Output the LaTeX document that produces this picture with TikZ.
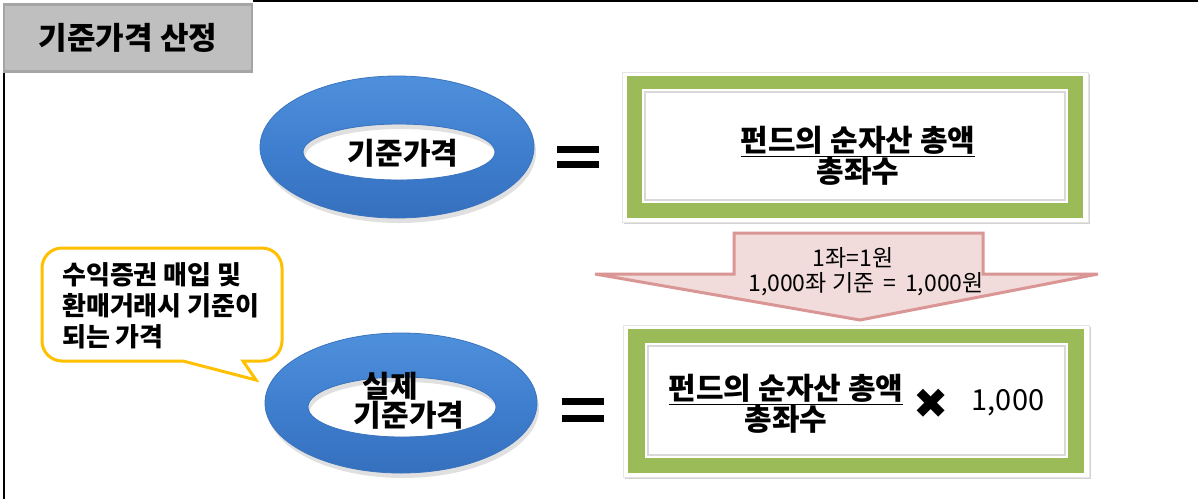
\documentclass[tikz,border=0pt]{standalone}
\usepackage{fontspec}
\setmainfont{Noto Sans CJK KR}
\newfontfamily\symfont{DejaVu Sans}
\usetikzlibrary{shadows}
\definecolor{titlefill}{HTML}{BFBFBF}
\definecolor{titleline}{HTML}{A5A5A5}
\definecolor{ringtop}{HTML}{4F90DC}
\definecolor{ringmid}{HTML}{3F7FCF}
\definecolor{ringbot}{HTML}{3570BE}
\definecolor{ringedge}{HTML}{3A74BE}
\definecolor{boxgreen}{HTML}{9BBB59}
\definecolor{arrowfill}{HTML}{F2DCDB}
\definecolor{arrowline}{HTML}{D99694}
\definecolor{callline}{HTML}{FFC000}
\tikzset{
  frameline/.style={draw=black, line width=2pt},
  titlebox/.style={draw=titleline, fill=titlefill, line width=2.5pt, minimum width=248pt, minimum height=67pt, font=\fontsize{31}{34}\selectfont\bfseries},
  ringtxt/.style={font=\fontsize{30}{34}\selectfont\bfseries, inner sep=0pt},
  boxtxt/.style={align=center, inner sep=0pt, font=\fontsize{30}{31}\selectfont\bfseries},
  arrtxt/.style={inner sep=0pt, font=\fontsize{23}{26}\selectfont},
  calltxt/.style={align=left, inner sep=0pt, font=\fontsize{26}{31}\selectfont\bfseries},
  eqbar/.style={fill=black},
  outerwhite/.style={fill=white, draw=gray!20, line width=0.6pt, drop shadow={opacity=0.35, shadow xshift=1.5pt, shadow yshift=-2pt}},
  greenfill/.style={fill=boxgreen},
  ringfill/.style={top color=ringtop, bottom color=ringbot, middle color=ringmid, even odd rule},
  arrowshape/.style={fill=arrowfill, draw=arrowline, line width=3pt, line join=miter},
  callout/.style={fill=white, draw=callline, line width=3pt}
}
\begin{document}
\begin{tikzpicture}[x=1pt,y=-1pt]
\useasboundingbox (0,0) rectangle (1198,499);
\fill[white] (0,0) rectangle (1198,499);

% frame
\coordinate (ftl) at (253,1);
\coordinate (ftr) at (1198,1);
\coordinate (fl1) at (4,72);
\coordinate (fl2) at (4,499);
\draw[frameline] (ftl) -- (ftr);
\draw[frameline] (fl1) -- (fl2);

% title
\node[titlebox] (title) at (128,38) {기준가격 산정};

% ---------- top ring ----------
\fill[black, opacity=0.12, even odd rule] (399,152) ellipse [x radius=137, y radius=71] (401,157) ellipse [x radius=96, y radius=28];
\shade[ringfill] (397,147) ellipse [x radius=137, y radius=71] (399,152) ellipse [x radius=96, y radius=28];
\draw[ringedge, line width=0.8pt] (397,147) ellipse [x radius=137, y radius=71] (399,152) ellipse [x radius=96, y radius=28];
\node[ringtxt] (p1) at (403,153) {기준가격};

% equals top
\fill[eqbar] (557,146) rectangle (599,153);
\fill[eqbar] (557,161) rectangle (599,168);

% top box
\path[outerwhite] (622,72) rectangle (1088,222);
\fill[greenfill] (627,76) rectangle (1083,218);
\fill[white] (642,89) rectangle (1068,203);
\draw[gray!30, line width=2pt] (645,92) rectangle (1065,200);
\node[boxtxt] (f1) at (858,156) {\underline{펀드의 순자산 총액}\\총좌수};

% arrow
\draw[arrowshape] (734,233) -- (983,233) -- (983,274) -- (1098,274) -- (860,320) -- (595,274) -- (734,274) -- cycle;
\node[arrtxt] (a1) at (853,258) {1좌=1원};
\node[arrtxt] (a2) at (866,284) {1,000좌 기준 \,=\, 1,000원};

% callout
\draw[callout] (183,361) [rounded corners=20pt] -- (42,361) -- (42,248) -- (282,248) -- (282,361) [sharp corners] -- (243,361) -- (256,380) -- cycle;
\node[calltxt, anchor=west] (c1) at (62,306) {수익증권 매입 및\\환매거래시 기준이\\되는 가격};

% ---------- bottom ring ----------
\fill[black, opacity=0.12, even odd rule] (403,408) ellipse [x radius=136, y radius=70] (404,412) ellipse [x radius=94, y radius=30];
\shade[ringfill] (401,403) ellipse [x radius=136, y radius=70] (402,407) ellipse [x radius=94, y radius=30];
\draw[ringedge, line width=0.8pt] (401,403) ellipse [x radius=136, y radius=70] (402,407) ellipse [x radius=94, y radius=30];
\node[ringtxt] (p2a) at (390,386) {실제};
\node[ringtxt] (p2b) at (409,415) {기준가격};

% equals bottom
\fill[eqbar] (562,398) rectangle (604,405);
\fill[eqbar] (562,415) rectangle (604,422);

% bottom box
\path[outerwhite] (623,325) rectangle (1089,477);
\fill[greenfill] (628,329) rectangle (1084,473);
\fill[white] (645,343) rectangle (1068,458);
\draw[gray!30, line width=2pt] (648,346) rectangle (1065,455);
\node[boxtxt, font=\fontsize{30}{28}\selectfont\bfseries] (f2) at (786,404) {\underline{펀드의 순자산 총액}\\총좌수};
\node[inner sep=0pt, font=\symfont\fontsize{42}{44}\selectfont\bfseries] (x2) at (931,404) {✖};
\node[inner sep=0pt, font=\fontsize{29}{30}\selectfont] (n2) at (1008,403) {1,000};
\end{tikzpicture}
\end{document}
